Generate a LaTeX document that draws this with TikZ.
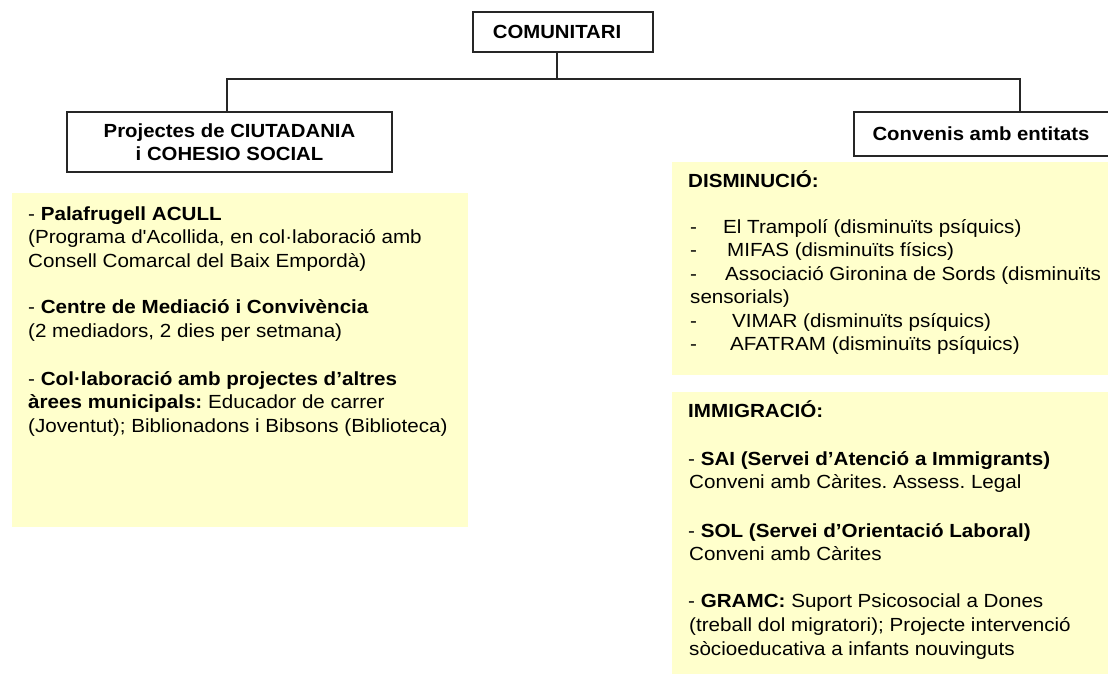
\documentclass[tikz,border=0pt]{standalone}
\usepackage{fontspec}
\newfontfamily\body{Liberation Sans}[FakeStretch=1.085]
\newfontfamily\head{Liberation Sans}[FakeStretch=1.07]
\definecolor{note}{HTML}{FFFFCC}
\definecolor{edge}{HTML}{262626}
\frenchspacing
\begin{document}
\begin{tikzpicture}[x=1pt,y=-1pt,
  hbox/.style={draw=edge, line width=1.6pt, fill=white, inner sep=0pt, align=center,
               font=\head\fontsize{19}{23}\selectfont\bfseries},
  link/.style={draw=edge, line width=1.5pt},
  ln/.style={anchor=west, inner sep=0pt, text height=14pt, text depth=4pt,
             font=\body\fontsize{19}{23}\selectfont\frenchspacing}]
\useasboundingbox (0,0) rectangle (1108,673);
\clip (0,0) rectangle (1108,673);
\fill[white] (0,0) rectangle (1108,673);

% yellow panels
\fill[note] (12,193) rectangle (468,527);
\fill[note] (672,162) rectangle (1112,375);
\fill[note] (672,392) rectangle (1112,677);

% header boxes
\node[hbox, minimum width=180, minimum height=40] (top) at (563,32) {COMUNITARI\hspace{12pt}};
\node[hbox, minimum width=325, minimum height=60] (left) at (229.5,142)
  {Projectes de CIUTADANIA\\i COHESIO SOCIAL};
\node[hbox, minimum width=266, minimum height=44] (right) at (987,134) {Convenis amb entitats\hspace{12pt}};

% connectors
\coordinate (tstem) at ([xshift=-6pt]top.south);
\coordinate (busL) at (227,79);
\coordinate (busR) at (1020,79);
\draw[link] (tstem) -- (tstem |- busL);
\draw[link] (busL |- left.north) -- (busL) -- (busR) -- (busR |- right.north);

% left panel text
\node[ln] (l1) at (28,215) {- \textbf{Palafrugell ACULL}};
\node[ln] (l2) at (28,238.5) {(Programa d'Acollida, en col·laboració amb};
\node[ln] (l3) at (28,262) {Consell Comarcal del Baix Empordà)};
\node[ln] (l4) at (28,308) {- \textbf{Centre de Mediació i Convivència}};
\node[ln] (l5) at (28,332) {(2 mediadors, 2 dies per setmana)};
\node[ln] (l6) at (28,380) {- \textbf{Col·laboració amb projectes d’altres}};
\node[ln] (l7) at (28,403.5) {\textbf{àrees municipals:} Educador de carrer};
\node[ln] (l8) at (28,427) {(Joventut); Biblionadons i Bibsons (Biblioteca)};

% right top panel text
\node[ln] (r0) at (688,182) {\textbf{DISMINUCIÓ:}};
\node[ln] (d1) at (690,228.5) {-};
\node[ln] (d2) at (690,251.9) {-};
\node[ln] (d3) at (690,275.3) {-};
\node[ln] (d5) at (690,322.1) {-};
\node[ln] (d6) at (690,345.5) {-};
\node[ln] (r1) at (723,228.5) {El Trampolí (disminuïts psíquics)};
\node[ln] (r2) at (727,251.9) {MIFAS (disminuïts físics)};
\node[ln] (r3) at (725,275.3) {Associació Gironina de Sords (disminuïts};
\node[ln] (r4) at (690,298.7) {sensorials)};
\node[ln] (r5) at (732,322.1) {VIMAR (disminuïts psíquics)};
\node[ln] (r6) at (730,345.5) {AFATRAM (disminuïts psíquics)};

% right bottom panel text
\node[ln] (b0) at (688,412) {\textbf{IMMIGRACIÓ:}};
\node[ln] (b1) at (688,460) {- \textbf{SAI (Servei d’Atenció a Immigrants)}};
\node[ln] (b2) at (689,483.5) {Conveni amb Càrites. Assess. Legal};
\node[ln] (b3) at (688,532) {- \textbf{SOL (Servei d’Orientació Laboral)}};
\node[ln] (b4) at (689,555.5) {Conveni amb Càrites};
\node[ln] (b5) at (688,602.5) {- \textbf{GRAMC:} Suport Psicosocial a Dones};
\node[ln] (b6) at (689,626.5) {(treball dol migratori); Projecte intervenció};
\node[ln] (b7) at (689,650) {sòcioeducativa a infants nouvinguts};
\end{tikzpicture}
\end{document}
